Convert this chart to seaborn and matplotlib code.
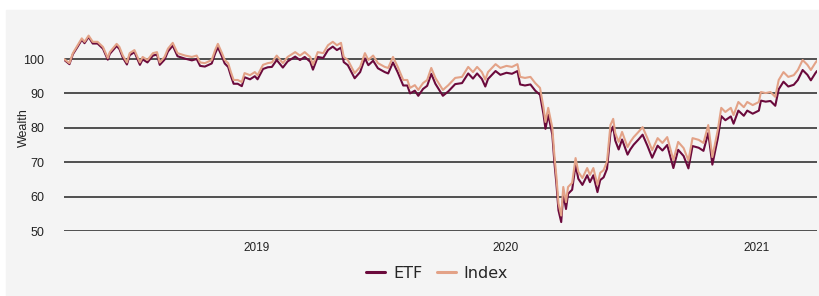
import numpy as np
import pandas as pd
import seaborn as sns
import matplotlib.pyplot as plt
import matplotlib.dates as mdates
from matplotlib.patches import Rectangle

# dates (roughly weekly turning points)
dates = [
    "2018-03-26", "2018-04-03", "2018-04-08", "2018-04-15", "2018-04-21", "2018-04-25",
    "2018-05-01", "2018-05-07", "2018-05-14", "2018-05-22", "2018-05-29", "2018-06-01",
    "2018-06-11", "2018-06-15", "2018-06-20", "2018-06-26", "2018-06-30", "2018-07-07",
    "2018-07-15", "2018-07-19", "2018-07-26", "2018-08-03", "2018-08-09", "2018-08-13",
    "2018-08-20", "2018-08-25", "2018-09-01", "2018-09-08", "2018-09-19", "2018-09-29",
    "2018-10-06", "2018-10-11", "2018-10-18", "2018-10-28", "2018-11-02", "2018-11-06",
    "2018-11-12", "2018-11-16", "2018-11-21", "2018-11-25", "2018-11-29", "2018-12-05",
    "2018-12-11", "2018-12-15", "2018-12-23", "2018-12-30", "2019-01-03", "2019-01-11",
    "2019-01-18", "2019-01-24", "2019-01-31", "2019-02-09", "2019-02-16", "2019-02-27",
    "2019-03-06", "2019-03-13", "2019-03-21", "2019-03-25", "2019-04-01", "2019-04-09",
    "2019-04-16", "2019-04-23", "2019-04-29", "2019-05-05", "2019-05-09", "2019-05-15",
    "2019-05-25", "2019-06-02", "2019-06-09", "2019-06-14", "2019-06-21", "2019-06-28",
    "2019-07-08", "2019-07-13", "2019-07-20", "2019-07-27", "2019-08-04", "2019-08-10",
    "2019-08-14", "2019-08-21", "2019-08-26", "2019-09-02", "2019-09-08", "2019-09-14",
    "2019-09-20", "2019-10-01", "2019-10-09", "2019-10-19", "2019-10-29", "2019-11-07",
    "2019-11-14", "2019-11-20", "2019-11-27", "2019-12-02", "2019-12-06", "2019-12-17",
    "2019-12-24", "2020-01-02", "2020-01-10", "2020-01-18", "2020-01-22", "2020-01-29",
    "2020-02-06", "2020-02-13", "2020-02-20", "2020-02-25", "2020-02-28", "2020-03-03",
    "2020-03-09", "2020-03-12", "2020-03-15", "2020-03-18", "2020-03-22", "2020-03-25",
    "2020-03-29", "2020-04-01", "2020-04-07", "2020-04-12", "2020-04-16", "2020-04-22",
    "2020-04-29", "2020-05-03", "2020-05-08", "2020-05-14", "2020-05-18", "2020-05-23",
    "2020-05-28", "2020-06-02", "2020-06-06", "2020-06-09", "2020-06-14", "2020-06-19",
    "2020-06-27", "2020-07-01", "2020-07-06", "2020-07-13", "2020-07-19", "2020-07-26",
    "2020-08-02", "2020-08-10", "2020-08-17", "2020-08-24", "2020-09-02", "2020-09-09",
    "2020-09-17", "2020-09-24", "2020-09-30", "2020-10-09", "2020-10-16", "2020-10-23",
    "2020-10-29", "2020-11-06", "2020-11-11", "2020-11-17", "2020-11-25", "2020-11-29",
    "2020-12-06", "2020-12-14", "2020-12-19", "2020-12-27", "2021-01-05", "2021-01-08",
    "2021-01-15", "2021-01-22", "2021-01-29", "2021-02-03", "2021-02-10", "2021-02-17",
    "2021-02-25", "2021-03-03", "2021-03-10", "2021-03-17", "2021-03-22", "2021-03-29",
    "2021-03-31",
]

index_vals = [
    100.0, 98.8, 101.7, 104.0, 106.0, 105.0,
    106.8, 105.0, 105.0, 103.5, 100.3, 102.0,
    104.4, 103.5, 101.0, 99.0, 101.7, 102.6,
    99.0, 100.6, 99.7, 101.7, 102.0, 99.0,
    100.6, 103.0, 104.7, 101.7, 101.0, 100.6,
    101.0, 99.0, 98.8, 99.7, 102.6, 104.4,
    101.7, 99.7, 98.8, 96.2, 93.9, 93.9,
    93.3, 95.9, 95.3, 96.2, 95.3, 98.3,
    98.8, 99.0, 101.0, 98.8, 100.6, 102.0,
    101.0, 102.0, 100.6, 98.3, 102.0, 101.7,
    104.0, 105.0, 104.0, 104.7, 100.6, 99.7,
    95.9, 97.7, 101.7, 99.7, 101.0, 98.8,
    97.7, 97.4, 100.6, 97.7, 93.9, 93.9,
    91.6, 92.4, 91.0, 93.0, 93.9, 97.4,
    94.5, 91.0, 92.4, 94.5, 94.8, 97.7,
    96.2, 97.7, 96.2, 94.0, 96.2, 98.5,
    97.4, 98.0, 97.7, 98.5, 94.8, 94.5,
    94.8, 93.0, 91.6, 86.0, 81.7, 85.8,
    80.0, 72.0, 65.7, 58.0, 54.5, 62.8,
    58.4, 62.8, 64.0, 71.2, 67.2, 65.4,
    68.3, 66.3, 68.3, 63.4, 66.9, 67.7,
    70.2, 80.8, 82.6, 78.5, 75.9, 78.8,
    74.4, 75.9, 77.3, 78.8, 80.2, 77.0,
    73.5, 77.0, 75.6, 77.3, 70.6, 75.9,
    74.1, 70.5, 77.0, 76.5, 75.6, 80.8,
    71.5, 79.4, 85.8, 84.6, 85.8, 83.7,
    87.5, 86.0, 87.5, 86.6, 87.5, 90.4,
    90.1, 90.4, 89.0, 93.9, 96.2, 94.8,
    95.3, 96.8, 99.7, 98.3, 96.8, 99.0,
    99.5,
]

etf_vals = [
    99.8, 98.5, 101.4, 103.6, 105.6, 104.6,
    106.4, 104.5, 104.5, 103.0, 99.8, 101.5,
    103.8, 102.9, 100.4, 98.4, 101.1, 102.0,
    98.3, 99.9, 99.0, 101.0, 101.3, 98.3,
    99.8, 102.2, 103.9, 100.8, 100.1, 99.6,
    100.0, 98.0, 97.8, 98.7, 101.6, 103.4,
    100.7, 98.7, 97.7, 95.1, 92.8, 92.8,
    92.1, 94.7, 94.1, 95.0, 94.1, 97.1,
    97.6, 97.7, 99.7, 97.5, 99.3, 100.7,
    99.7, 100.6, 99.2, 96.9, 100.6, 100.3,
    102.6, 103.6, 102.6, 103.3, 99.1, 98.2,
    94.4, 96.2, 100.2, 98.2, 99.5, 97.3,
    96.2, 95.8, 99.0, 96.1, 92.3, 92.3,
    90.0, 90.8, 89.3, 91.3, 92.2, 95.7,
    92.8, 89.3, 90.6, 92.7, 93.0, 95.8,
    94.3, 95.8, 94.2, 92.0, 94.2, 96.5,
    95.4, 96.0, 95.7, 96.5, 92.6, 92.3,
    92.6, 90.8, 89.6, 84.0, 79.7, 83.8,
    78.0, 70.0, 63.7, 56.0, 52.6, 60.8,
    56.4, 60.8, 62.0, 69.2, 65.2, 63.4,
    66.2, 64.2, 66.2, 61.3, 64.8, 65.6,
    68.1, 78.6, 80.4, 76.3, 73.7, 76.6,
    72.2, 73.7, 75.1, 76.6, 78.0, 74.8,
    71.3, 74.8, 73.4, 75.0, 68.3, 73.6,
    71.8, 68.2, 74.7, 74.2, 73.3, 78.5,
    69.3, 77.0, 83.4, 82.2, 83.3, 81.2,
    85.0, 83.5, 85.0, 84.1, 85.0, 87.9,
    87.6, 87.8, 86.4, 91.2, 93.4, 92.0,
    92.5, 93.9, 96.8, 95.4, 93.8, 96.0,
    96.5,
]

series_names = ["ETF", "Index"]
colors = ["#6b0a3c", "#e3a287"]
year_ticks = ["2019-01-01", "2020-01-01", "2021-01-01"]
y_ticks = [50, 60, 70, 80, 90, 100]

df = pd.DataFrame({"Date": pd.to_datetime(dates), "ETF": etf_vals, "Index": index_vals})
long = df.melt(id_vars="Date", var_name="series", value_name="Wealth")

sns.set_theme(style="white")
plt.rcParams['font.family'] = ['Liberation Sans', 'DejaVu Sans']

bg = "#f4f4f4"
fig = plt.figure(figsize=(8.2, 2.96), dpi=100, facecolor="white")
fig.patches.append(Rectangle((6 / 820, 0), 814 / 820, 286 / 296,
                             transform=fig.transFigure, color=bg, zorder=-10))
ax = fig.add_axes([64 / 820, 1 - 231 / 296, (817 - 64) / 820, (231 - 24.6) / 296])
ax.set_facecolor(bg)

sns.lineplot(data=long, x="Date", y="Wealth", hue="series", hue_order=series_names,
             palette=colors, linewidth=1.5, ax=ax, legend=False)

ax.set_xlim(df["Date"].min(), df["Date"].max())
ax.set_ylim(50, 110)
ax.set_yticks(y_ticks)
ax.set_xticks(pd.to_datetime(year_ticks))
ax.xaxis.set_major_formatter(mdates.DateFormatter("%Y"))
ax.grid(axis="y", color="#333333", linewidth=1.2)
ax.set_axisbelow(True)
for s in ax.spines.values():
    s.set_visible(False)
ax.tick_params(axis="y", length=0, pad=14, labelsize=9, labelcolor="#222222")
ax.tick_params(axis="x", direction="in", length=4, width=1, color="#222222",
               pad=8, labelsize=8.5, labelcolor="#222222")
ax.set_xlabel("")
ax.set_ylabel("Wealth", fontsize=9, color="#222222")
ax.yaxis.set_label_coords(-0.045, 0.5)

handles = [plt.Line2D([], [], color=c, linewidth=2.2) for c in colors]
fig.legend(handles, series_names, loc="center", bbox_to_anchor=(437 / 820, 1 - 273 / 296),
           ncol=2, frameon=False, handlelength=1.2, handletextpad=0.5,
           columnspacing=0.9, prop={"family": "DejaVu Sans", "size": 11.5})

fig.savefig("out.png", dpi=100, facecolor="white")
